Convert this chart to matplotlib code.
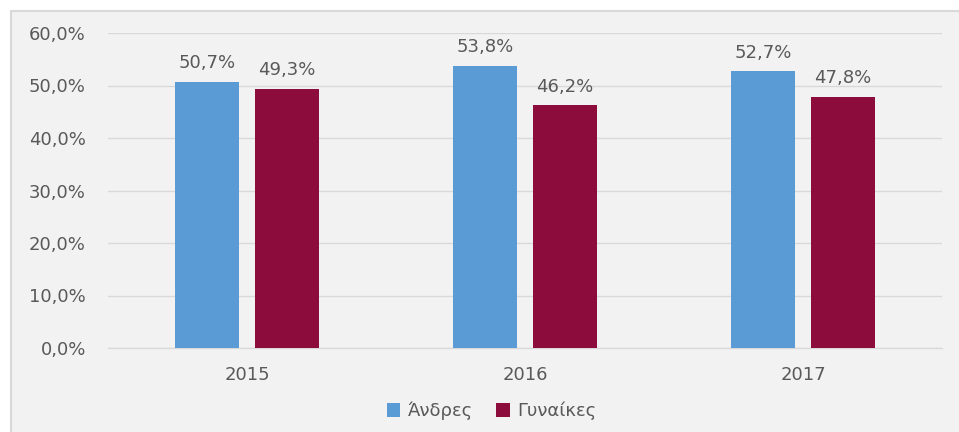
import numpy as np
import matplotlib.pyplot as plt
from matplotlib.patches import Rectangle
from matplotlib.ticker import FuncFormatter

plt.rcParams['font.family'] = ['DejaVu Sans']

years = ['2015', '2016', '2017']
andres = [50.7, 53.8, 52.7]
gynaikes = [49.3, 46.2, 47.8]
series_names = ['Άνδρες', 'Γυναίκες']
colors = ['#5b9bd5', '#8c0c3c']
text_color = '#595959'

fig = plt.figure(figsize=(9.59, 4.32), dpi=100)
fig.patch.set_facecolor('white')
# chart frame
fig.patches.append(Rectangle((11 / 959, -0.05), 1.0, 1 - 11 / 432 + 0.05,
                             transform=fig.transFigure, facecolor='#f2f2f2',
                             edgecolor='#d9d9d9', linewidth=1.5, zorder=-1))

ax = fig.add_axes([108 / 959, 1 - 348 / 432, 834 / 959, 315 / 432])
ax.set_facecolor('none')

x = np.arange(len(years))
w = 0.227
off = (w + 0.061) / 2
b1 = ax.bar(x - off, andres, w, color=colors[0], label=series_names[0], zorder=3)
b2 = ax.bar(x + off, gynaikes, w, color=colors[1], label=series_names[1], zorder=3)

for bars in (b1, b2):
    for r in bars:
        v = r.get_height()
        ax.annotate(f'{v:.1f}%'.replace('.', ','), (r.get_x() + r.get_width() / 2, v),
                    xytext=(0, 7), textcoords='offset points', ha='center', va='bottom',
                    fontsize=13, color=text_color)

ax.set_xlim(-0.5, 2.5)
ax.set_ylim(0, 60)
ax.set_yticks(np.arange(0, 61, 10))
ax.yaxis.set_major_formatter(FuncFormatter(lambda v, p: f'{v:.1f}%'.replace('.', ',')))
ax.set_xticks(x)
ax.set_xticklabels(years)
ax.grid(axis='y', color='#d9d9d9', linewidth=1.0, zorder=0)
for s in ['top', 'right', 'left']:
    ax.spines[s].set_visible(False)
ax.spines['bottom'].set_color('#d9d9d9')
ax.spines['bottom'].set_linewidth(1.0)
ax.tick_params(length=0, colors=text_color, labelsize=13)
ax.tick_params(axis='y', pad=16)
ax.tick_params(axis='x', pad=13)

leg = ax.legend(loc='center', bbox_to_anchor=(0.46, -0.2), ncol=2, frameon=False,
                fontsize=13, handlelength=0.75, handleheight=0.75, handletextpad=0.4,
                columnspacing=1.3)
for t in leg.get_texts():
    t.set_color(text_color)

fig.savefig('out.png', dpi=100)
